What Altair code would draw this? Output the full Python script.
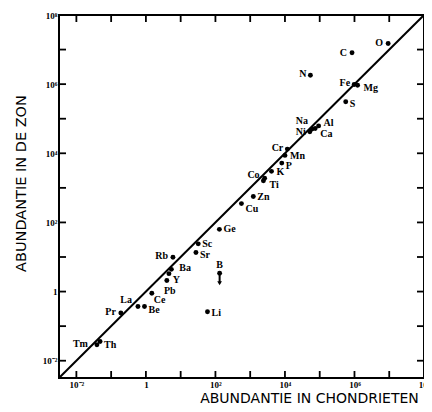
import altair as alt
import pandas as pd

# ---- data ----
elements = ["O", "C", "N", "Fe", "Mg", "S", "Na", "Ni", "Ca", "Al", "Cr", "Mn", "P", "K",
            "Co", "Ti", "Zn", "Cu", "Ge", "Sc", "Sr", "Rb", "Ba", "Pb", "Y", "Ce", "La",
            "Be", "Pr", "Li", "Tm", "Th", "B"]
chondrites = [9.3e6, 8.5e5, 5.4e4, 9.8e5, 1.23e6, 5.6e5, 6.0e4, 5.2e4, 7.4e4, 9.3e4, 1.17e4,
              1.0e4, 8.1e3, 4.1e3, 2.6e3, 2.4e3, 1.23e3, 560, 130, 32, 27.5, 6.0, 5.4, 4.6,
              4.0, 1.48, 0.59, 0.91, 0.19, 59, 0.039, 0.048, 132]
sun = [1.5e7, 8.1e6, 1.8e6, 9.8e5, 9.3e5, 3.1e5, 5.0e4, 4.2e4, 5.2e4, 6.2e4, 1.32e4,
       8.7e3, 5.2e3, 3.0e3, 1.9e3, 1.6e3, 560, 350, 63, 24, 13.5, 9.8, 4.4, 3.3,
       2.1, 0.89, 0.37, 0.37, 0.24, 0.26, 0.029, 0.036, 3.4]
boron_limit_to = 1.75  # arrow end of the B upper limit

line_ends = [10 ** -2.5, 1e8]
tick_values = [1e-2, 1e-1, 1, 1e1, 1e2, 1e3, 1e4, 1e5, 1e6, 1e7, 1e8]
label_values = [1e-2, 1, 1e2, 1e4, 1e6, 1e8]

# ---- label placement (style) ----
placement = {
    "O": (-5, 0, "right"), "C": (-5, 0, "right"), "N": (-4, -1, "right"),
    "Fe": (-4, -1, "right"), "Mg": (6, 3, "left"), "S": (4, 2, "left"),
    "Na": (-4, -8, "right"), "Ni": (-4, 0, "right"), "Ca": (5, 5, "left"),
    "Al": (5, -3, "left"), "Cr": (-4, -1, "right"), "Mn": (5, 1, "left"),
    "P": (4, 3, "left"), "K": (5, 1, "left"), "Co": (-5, -3, "right"),
    "Ti": (6, 4, "left"), "Zn": (4, 0, "left"), "Cu": (4, 5, "left"),
    "Ge": (4, 0, "left"), "Sc": (4, 0, "left"), "Sr": (4, 3, "left"),
    "Rb": (-5, -1, "right"), "Ba": (8, -1, "left"), "Pb": (-5, 17, "left"),
    "Y": (6, 0, "left"), "Ce": (2, 7, "left"), "La": (-6, -6, "right"),
    "Be": (4, 4, "left"), "Pr": (-5, -1, "right"), "Li": (4, 1, "left"),
    "Tm": (-9, -1, "right"), "Th": (4, 4, "left"), "B": (0, -8, "center"),
}

df = pd.DataFrame({"el": elements, "chondrite": chondrites, "sun": sun})
df["dx"] = [placement[e][0] for e in elements]
df["dy"] = [placement[e][1] for e in elements]
df["al"] = [placement[e][2] for e in elements]

W, H = 365, 363
TL = 7  # tick length
xs = alt.Scale(type="log", domain=line_ends, nice=False)
ys = alt.Scale(type="log", domain=line_ends, nice=False)

sup_labels = "['10\u207b\u00b2','','1','','10\u00b2','','10\u2074','','10\u2076','','10\u2078'][round(log(datum.value)/LN10)+2]"

x_axis = alt.Axis(values=label_values, ticks=False, domain=False, grid=False,
                  labelExpr=sup_labels, labelFlush=False, labelOverlap=False,
                  labelFont="Liberation Serif", labelFontWeight="bold", labelFontSize=9,
                  labelPadding=2, labelColor="black",
                  title="ABUNDANTIE  IN  CHONDRIETEN", titleFont="DejaVu Sans",
                  titleFontSize=14, titleFontWeight="normal", titleColor="black",
                  titleX=250, titleY=13, titleBaseline="top", titleAlign="center")
y_axis = alt.Axis(values=label_values, ticks=False, domain=False, grid=False,
                  labelExpr=sup_labels, labelFlush=False, labelOverlap=False,
                  labelFont="Liberation Serif", labelFontWeight="bold", labelFontSize=9,
                  labelPadding=2, labelColor="black",
                  title="ABUNDANTIE  IN  DE  ZON", titleFont="DejaVu Sans",
                  titleFontSize=14.5, titleFontWeight="normal", titleColor="black",
                  titleX=-38, titleY=168, titleBaseline="middle", titleAlign="center",
                  titleAngle=270)

X = lambda f: alt.X(f, scale=xs, axis=x_axis)
Y = lambda f: alt.Y(f, scale=ys, axis=y_axis)

base = alt.Chart(df)

points = base.mark_circle(size=24, color="black", opacity=1).encode(
    x=X("chondrite:Q"), y=Y("sun:Q"))

labels = base.mark_text(font="Liberation Serif", fontWeight="bold", fontSize=10,
                        color="black", baseline="middle",
                        dx=alt.ExprRef("datum.dx"), dy=alt.ExprRef("datum.dy"),
                        align=alt.ExprRef("datum.al")).encode(
    x=X("chondrite:Q"), y=Y("sun:Q"), text="el:N")

b_df = df[df["el"] == "B"].assign(to=boron_limit_to)
b_rule = alt.Chart(b_df).mark_rule(color="black", strokeWidth=2).encode(
    x=X("chondrite:Q"), y=Y("sun:Q"), y2="to:Q")
b_head = alt.Chart(b_df).mark_point(shape="triangle-down", filled=True, size=22,
                                    color="black", opacity=1).encode(
    x=X("chondrite:Q"), y=Y("to:Q"))

line_df = pd.DataFrame({"a": line_ends, "b": line_ends})
diag = alt.Chart(line_df).mark_line(color="black", strokeWidth=2, clip=True).encode(
    x=X("a:Q"), y=Y("b:Q"))

tdf = pd.DataFrame({"v": tick_values})
tick_bottom = alt.Chart(tdf).mark_rule(color="black", strokeWidth=1.8).encode(
    x=X("v:Q"), y=alt.value(H), y2=alt.value(H - TL))
tick_top = alt.Chart(tdf).mark_rule(color="black", strokeWidth=1.8).encode(
    x=X("v:Q"), y=alt.value(0), y2=alt.value(TL))
tick_left = alt.Chart(tdf).mark_rule(color="black", strokeWidth=1.8).encode(
    y=Y("v:Q"), x=alt.value(0), x2=alt.value(TL))
tick_right = alt.Chart(tdf).mark_rule(color="black", strokeWidth=1.8).encode(
    y=Y("v:Q"), x=alt.value(W), x2=alt.value(W - TL))

chart = alt.layer(
    diag, tick_bottom, tick_top, tick_left, tick_right, b_rule, b_head, points, labels
).properties(
    width=W, height=H,
    padding={"left": 51, "top": 7, "right": 0, "bottom": 26},
    autosize=alt.AutoSizeParams(type="none"),
    background="white",
).configure_view(stroke="black", strokeWidth=2)

chart.save("out.html", embed_options={"renderer": "svg", "actions": False})
